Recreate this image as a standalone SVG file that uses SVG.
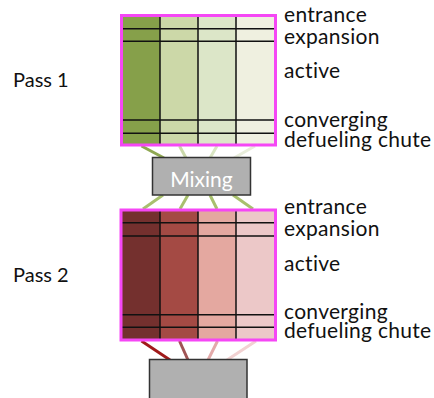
<svg xmlns="http://www.w3.org/2000/svg" width="434" height="398" viewBox="0 0 434 398">
<style>
text{font-family:Lato,"Liberation Sans",sans-serif;font-size:20px;fill:#111}
.lbl{font-size:21px;letter-spacing:0.3px}
.grid{stroke:#111;stroke-width:1.5;fill:none}
.frame{fill:none;stroke:#f547f5;stroke-width:3}
.box{fill:#b0b0b0;stroke:#333;stroke-width:1.5}
.conn line{stroke-width:3}
</style>
<rect width="434" height="398" fill="#fff"/>
<g id="connectors" class="conn">
<line x1="141.5" y1="146" x2="164" y2="158" stroke="#8fa852"/>
<line x1="179.5" y1="146" x2="186" y2="158" stroke="#cbd9ab"/>
<line x1="217" y1="146" x2="210" y2="158" stroke="#d9e5c3"/>
<line x1="255" y1="146" x2="234" y2="158" stroke="#e8eddb"/>
<line x1="163" y1="195" x2="143" y2="209" stroke="#a8c06e"/>
<line x1="188" y1="195" x2="180" y2="209" stroke="#a8c06e"/>
<line x1="210" y1="195" x2="217" y2="209" stroke="#a8c06e"/>
<line x1="233" y1="195" x2="253" y2="209" stroke="#a8c06e"/>
<line x1="141.5" y1="341" x2="170" y2="360" stroke="#a01a1a"/>
<line x1="179.5" y1="341" x2="188" y2="360" stroke="#a05555"/>
<line x1="217.5" y1="341" x2="208" y2="360" stroke="#e3aaaa"/>
<line x1="256" y1="341" x2="227" y2="360" stroke="#f2d2d2"/>
</g>
<g id="pass1">
<rect x="122" y="15.5" width="38" height="129.5" fill="#86a04a"/>
<rect x="160" y="15.5" width="38" height="129.5" fill="#ccd8a8"/>
<rect x="198" y="15.5" width="38" height="129.5" fill="#dce6c8"/>
<rect x="236" y="15.5" width="39" height="129.5" fill="#eff0e0"/>
<path class="grid" d="M160 15.5V145M198 15.5V145M236 15.5V145M122 28.7H275M122 41.3H275M122 120H275M122 133.3H275"/>
<rect class="frame" x="121.5" y="15.5" width="154" height="129.5"/>
<text x="13" y="86.5">Pass 1</text>
<text class="lbl" x="284" y="21.7">entrance</text>
<text class="lbl" x="284" y="44">expansion</text>
<text class="lbl" x="284" y="78">active</text>
<text class="lbl" x="284" y="126.7">converging</text>
<text class="lbl" x="284" y="146.7">defueling chute</text>
</g>
<g id="mixing">
<rect class="box" x="152.5" y="157.5" width="98" height="37.5"/>
<text x="201.5" y="186.5" text-anchor="middle" style="fill:#fff;font-size:21px">Mixing</text>
</g>
<g id="pass2">
<rect x="122" y="210" width="38" height="130" fill="#74302e"/>
<rect x="160" y="210" width="38" height="130" fill="#a44a44"/>
<rect x="198" y="210" width="38" height="130" fill="#e4a8a0"/>
<rect x="236" y="210" width="39" height="130" fill="#ecc8c8"/>
<path class="grid" d="M160 210V340M198 210V340M236 210V340M122 222.7H275M122 236H275M122 314.7H275M122 327.3H275"/>
<rect class="frame" x="121" y="210" width="154.5" height="130"/>
<text x="13" y="281.5">Pass 2</text>
<text class="lbl" x="284" y="214">entrance</text>
<text class="lbl" x="284" y="236">expansion</text>
<text class="lbl" x="284" y="271">active</text>
<text class="lbl" x="284" y="319.3">converging</text>
<text class="lbl" x="284" y="338.3">defueling chute</text>
</g>
<g id="output">
<rect class="box" x="149.5" y="359.5" width="97.5" height="45"/>
</g>
</svg>
